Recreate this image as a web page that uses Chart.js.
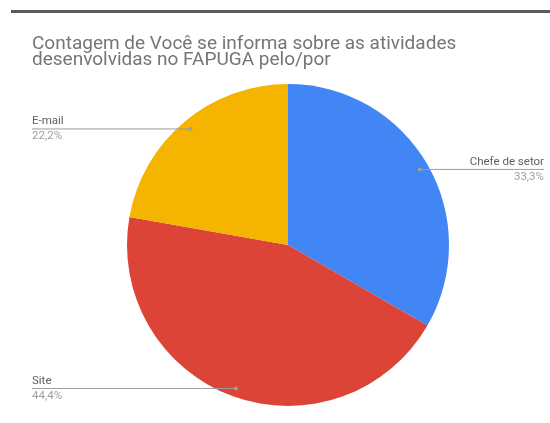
<!DOCTYPE html>
<html>
<head>
<meta charset="utf-8">
<script src="https://cdn.jsdelivr.net/npm/chart.js@4/dist/chart.umd.min.js"></script>
<style>
  body { margin: 0; background: #fff; }
  #wrap { position: relative; width: 550px; height: 423px; }
  #topbar { position: absolute; top: 10px; left: 11px; right: 0; height: 3px; background: #5a5a5a; }
</style>
</head>
<body>
<div id="wrap">
  <div id="topbar"></div>
  <canvas id="pie-chart" width="550" height="423"></canvas>
</div>
<script>
var titleLines = ['Contagem de Você se informa sobre as atividades', 'desenvolvidas no FAPUGA pelo/por'];
var labels1 = ['Chefe de setor', 'Site', 'E-mail'];
var data1 = [3, 4, 2];
var colors1 = ['#4285F4', '#DB4437', '#F4B400'];

// title + leader-line labels drawn on top of the pie
var calloutPlugin = {
    id: 'callouts',
    afterDraw: function(chart) {
        var ctx = chart.ctx;
        ctx.save();
        ctx.font = '19px Roboto';
        ctx.fillStyle = '#757575';
        ctx.textAlign = 'left';
        ctx.textBaseline = 'alphabetic';
        ctx.fillText(titleLines[0], 32, 49);
        ctx.fillText(titleLines[1], 32, 65);

        var total = data1.reduce(function(a, b) { return a + b; }, 0);
        var meta = chart.getDatasetMeta(0);
        meta.data.forEach(function(arc, i) {
            var mid = (arc.startAngle + arc.endAngle) / 2;
            var r = arc.outerRadius * 0.945;
            var px = arc.x + Math.cos(mid) * r;
            var py = arc.y + Math.sin(mid) * r;
            var right = Math.cos(mid) > 0;
            var endX = right ? 544 : 32;

            ctx.strokeStyle = '#9e9e9e';
            ctx.lineWidth = 1;
            ctx.beginPath();
            ctx.moveTo(px, py + 0.5);
            ctx.lineTo(endX, py + 0.5);
            ctx.stroke();

            ctx.fillStyle = '#9e9e9e';
            ctx.beginPath();
            ctx.arc(px, py + 0.5, 2, 0, Math.PI * 2);
            ctx.fill();

            var pct = (data1[i] / total * 100).toFixed(1).replace('.', ',') + '%';
            ctx.textAlign = right ? 'right' : 'left';
            ctx.font = '11.5px Roboto';
            ctx.fillStyle = '#616161';
            ctx.fillText(labels1[i], endX, py - 4);
            ctx.fillStyle = '#9e9e9e';
            ctx.fillText(pct, endX, py + 11);
        });
        ctx.restore();
    }
};

window.onload = function() {
    var ctx = document.getElementById('pie-chart').getContext('2d');
    new Chart(ctx, {
        type: 'pie',
        data: {
            labels: labels1,
            datasets: [{
                data: data1,
                backgroundColor: colors1,
                borderWidth: 0
            }]
        },
        options: {
            responsive: false,
            animation: false,
            layout: { padding: { top: 84, bottom: 17, left: 127, right: 101 } },
            plugins: {
                legend: { display: false },
                tooltip: { enabled: false }
            }
        },
        plugins: [calloutPlugin]
    });
};
</script>
</body>
</html>
